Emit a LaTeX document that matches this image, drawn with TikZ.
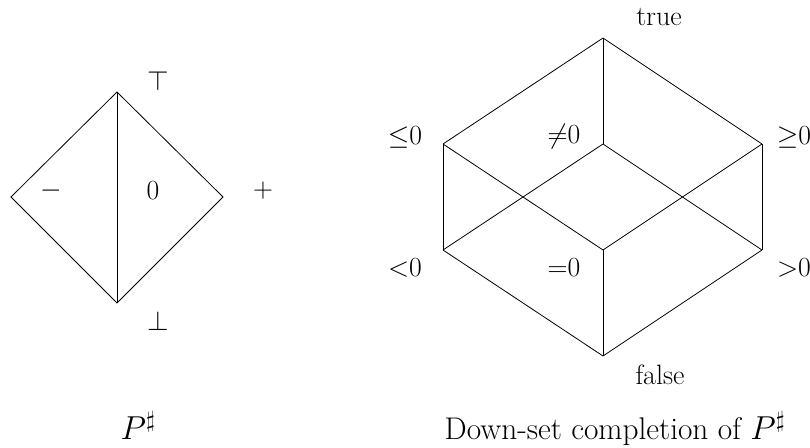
\documentclass[tikz,border=0pt]{standalone}
\usepackage{amssymb}
\begin{document}
\begin{tikzpicture}[x=0.75pt,y=-0.75pt,
  lbl/.style={inner sep=0pt,font=\fontsize{21}{25}\selectfont},
  captext/.style={inner sep=0pt,anchor=base,font=\fontsize{23.5}{28}\selectfont},
  edge/.style={line width=0.6pt}]
\useasboundingbox (0,0) rectangle (810,448);
% left diamond
\coordinate (T) at (117,92);
\coordinate (L) at (11,197);
\coordinate (R) at (223,197);
\coordinate (B) at (117,303);
\draw[edge] (T) -- (L) -- (B) -- (R) -- (T);
\draw[edge] (T) -- (B);
\node[lbl] (top) at (158,81) {$\top$};
\node[lbl] (bot) at (158,321) {$\bot$};
\node[lbl] (neg) at (51,191) {$-$};
\node[lbl] (zero) at (153,191) {$0$};
\node[lbl] (pos) at (263,191) {$+$};
\node[captext] (ps) at (138,440) {$P^\sharp$};
% cube
\coordinate (ct) at (603,38);
\coordinate (clu) at (443,144);
\coordinate (ccu) at (603,144);
\coordinate (cru) at (762,144);
\coordinate (cll) at (443,250);
\coordinate (ccl) at (603,250);
\coordinate (crl) at (762,250);
\coordinate (cb) at (603,356);
\draw[edge] (ct) -- (clu);
\draw[edge] (ct) -- (ccu);
\draw[edge] (ct) -- (cru);
\draw[edge] (clu) -- (cll);
\draw[edge] (clu) -- (ccl);
\draw[edge] (ccu) -- (cll);
\draw[edge] (ccu) -- (crl);
\draw[edge] (cru) -- (ccl);
\draw[edge] (cru) -- (crl);
\draw[edge] (cll) -- (cb);
\draw[edge] (ccl) -- (cb);
\draw[edge] (crl) -- (cb);
\node[lbl] (ltrue) at (659,17) {true};
\node[lbl] (lle) at (405,137) {${\leq}0$};
\node[lbl] (lne) at (564,137) {${\neq}0$};
\node[lbl] (lge) at (794,137) {${\geq}0$};
\node[lbl] (llt) at (405,268) {${<}0$};
\node[lbl] (leq) at (564,268) {${=}0$};
\node[lbl] (lgt) at (794,268) {${>}0$};
\node[lbl] (lfalse) at (660,375) {false};
\node[captext] (capt) at (615,440) {Down-set completion of $P^\sharp$};
\end{tikzpicture}
\end{document}
